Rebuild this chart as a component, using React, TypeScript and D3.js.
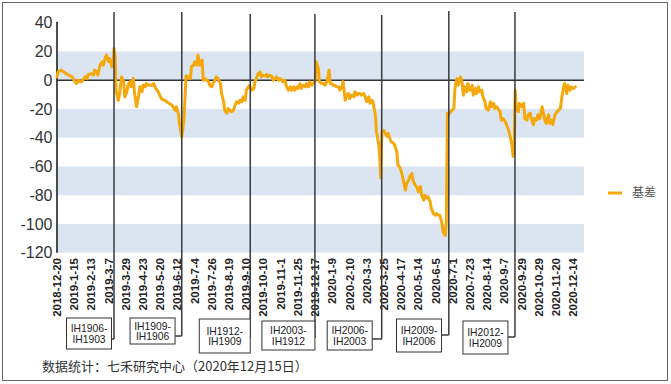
import React from "react";
import * as d3 from "d3";

// trading-day index (0 = 2018-12-20) and basis value
const pointDay = [0,1,4,7,10,14,17,18,20,21,23,26,28,29,32,34,35,37,38,40,42,43,45,46,48,49,51,52,53,54,55,57,58,60,62,63,65,66,68,69,71,72,74,76,77,79,80,82,83,85,88,90,91,94,97,100,104,107,110,111,113,114,116,117,118,120,122,
124,125,127,128,130,131,133,135,136,138,139,141,142,144,145,147,148,150,152,153,155,156,158,159,161,162,164,165,167,169,170,172,173,175,176,178,179,181,183,184,186,187,189,190,192,193,195,196,198,200,201,203,204,206,207,209,210,212,213,215,217,218,220,221,223,224,226,227,229,231,232,234,235,237,238,240,
241,243,244,246,248,249,251,252,253,254,255,257,258,260,262,263,265,266,268,269,271,272,274,276,277,279,280,282,283,285,286,288,290,291,293,294,296,297,299,300,301,302,304,305,307,308,310,311,313,314,316,317,319,321,322,324,325,327,328,330,331,333,335,336,338,339,341,342,344,345,347,348,350,352,353,355,356,358,359,361,362,
363,364,365,367,369,370,371,372,373,375,376,378,379,381,382,384,386,387,389,390,392,393,395,396,398,399,401,403,404,406,407,409,410,412,413,415,417,418,420,421,423,424,425,426,427,429,430,432,434,435,437,438,440,441,443,444,446,447,449,451,452,454,455,457,458,460,461,463,465,466,468,469,471,472,474,475,477,478,480,482];
const pointBasis = [2.3,5.8,7,5.3,4,2.3,-1.2,-2.3,0,-1,-1,2.3,1,4,4.6,3.5,7,6,3.5,10.4,12.8,10.4,16,17.4,12.8,15,9.3,10.4,22,17,-8,-14,-10.4,2.3,-1,-11.6,-8,-3.5,-1,-4.6,1.2,-8,-18.5,-10.4,-4.6,-8,-3.5,-4.6,-2.3,-3.5,-3.5,-2.3,-4.6,-8,-12.8,-14,-16,-17.4,-21,-18.5,-24,-31,-39.4,-34,-28,3,2.3,
1,9.3,10.4,12.8,10.4,17.4,10.4,14,0,1,0,-1,-3.5,-4.6,-2.3,0,2.3,1,-2.3,-9.3,-15,-21,-23,-19.7,-21,-22,-21,-18.5,-15,-16,-14,-15,-11.6,-14,-7,-4.6,-3.5,-7,-5.8,-1.2,2.3,4.6,5.8,2.3,3.5,3,4,2.3,3.5,2.3,0,1.2,2.3,0,1.2,0,-1.2,0,-3.5,-7,-4.6,-7,-4.6,-7,-4.6,-5.8,-2.3,-5.8,-3.5,-4.6,-2.3,-4.6,-1.2,-3.5,-2.3,-1,
12.8,8,-1,-2.3,-2.3,-3.5,-1,2.3,7,-2.3,-2.3,-3.5,-3.5,-4.6,-4.6,-7,-4.6,-1,-14,-10.4,-9.3,-12.8,-10.4,-11.6,-8,-10.4,-9.3,-9.3,-10.4,-9.3,-10.4,-15,-11.6,-16,-14,-16,-24,-36,-44,-52,-68,-36,-35,-37,-39,-37,-41.7,-43,-44,-45,-50,-59,-61,-66,-69.6,-76.5,-72,-69.6,-67,-65,-69.6,-73,-75,-77.7,-74,-80,-83.5,-80,-82,-81,-84.6,-89,-92.8,-94,-92.8,-94,-94,-99.7,-105.5,-108,-98,
-23,-24,-23,-21,-19.7,-5.8,-1.2,1,-3.5,2.3,1.2,-10.4,-4.6,-8,-2.3,-7,-3.5,-10.4,-5.8,-9.3,-4.6,-8,-7,-11.6,-15,-19.7,-20.8,-15,-18.5,-16,-19.7,-18.5,-19.7,-22,-27.8,-26.7,-29,-31,-35,-38,-45,-53,-52,-7,-18,-22,-16,-18.5,-16,-26.7,-27.8,-24,-23,-26.7,-31,-26.7,-27.8,-24,-26.7,-18.5,-22,-29,-30,-24,-30,-27.8,-31,-24,-22,-21,-19.7,-14,-4.6,-2.3,-9.3,-3.5,-7,-4.6,-5.8,-4.6];

const tickLabels = ["2018-12-20","2019-1-15","2019-2-13","2019-3-7","2019-3-29","2019-4-23","2019-5-20","2019-6-12","2019-7-4","2019-7-26","2019-8-19","2019-9-10","2019-10-10","2019-11-1","2019-11-25","2019-12-17","2020-1-9","2020-2-10","2020-3-3","2020-3-25","2020-4-17","2020-5-14","2020-6-5","2020-7-1","2020-7-23","2020-8-14","2020-9-7","2020-9-29","2020-10-29","2020-11-20","2020-12-14"];
const tickStep = 16;
const yTicks = [40, 20, 0, -20, -40, -60, -80, -100, -120];

// contract roll days and their labels
const rollDay = [53, 116, 179.7, 239.8, 301.9, 364.3, 425.8];
const rollLabel = [
  ["IH1906-", "IH1903"],
  ["IH1909-", "IH1906"],
  ["IH1912-", "IH1909"],
  ["IH2003-", "IH1912"],
  ["IH2006-", "IH2003"],
  ["IH2009-", "IH2006"],
  ["IH2012-", "IH2009"],
];
const seriesName = "基差";
const footnote = "数据统计：七禾研究中心（2020年12月15日）";

// layout of annotation boxes (gap to line, width, top, bottom, connector y, line top)
const boxLayout = [
  { gap: 2.5, w: 45, top: 318, bottom: 349, cy: 339, lt: 12 },
  { gap: 6.7, w: 45, top: 318, bottom: 344, cy: 336, lt: 12 },
  { gap: 0, w: 51, top: 319, bottom: 353, cy: 338, lt: 14 },
  { gap: 0, w: 53, top: 321, bottom: 350, cy: 338, lt: 14 },
  { gap: 9.5, w: 45, top: 321, bottom: 350, cy: 339, lt: 15 },
  { gap: 7.3, w: 45, top: 319, bottom: 352, cy: 335, lt: 11 },
  { gap: 7, w: 45, top: 321, bottom: 354, cy: 337, lt: 12 },
];

const FONT = "'Liberation Sans', Arial, sans-serif";
const ORANGE = "#F5A80C";

export default function App() {
  const W = 671, H = 384;
  const x = d3.scaleLinear().domain([0, 490]).range([57, 584]);
  const y = d3.scaleLinear().domain([-120, 40]).range([252.7, 22.7]);
  const pts: [number, number][] = pointDay.map((d, i) => [d, pointBasis[i]]);
  const line = d3.line<[number, number]>().x(d => x(d[0])).y(d => y(d[1]));
  const bands = [[20, 0], [-20, -40], [-60, -80], [-100, -120]];
  return (
    <svg width={W} height={H} style={{ position: "absolute", left: 0, top: 0, background: "#fff" }}>
      <rect x={2.5} y={2.5} width={665} height={378} fill="#fff" stroke="#666" strokeWidth={1} />
      {bands.map(([a, b], i) => (
        <rect key={i} x={x(0)} y={y(a)} width={x(490) - x(0)} height={y(b) - y(a)} fill="#dbe5f1" />
      ))}
      <line x1={x(0)} x2={x(490)} y1={y(0)} y2={y(0)} stroke="#333" strokeWidth={1.5} />
      <line x1={x(0)} x2={x(0)} y1={y(40) - 1} y2={y(-120)} stroke="#111" strokeWidth={1.5} />
      {yTicks.map(t => (
        <text key={t} x={52.5} y={y(t)} dy="0.35em" textAnchor="end" fontFamily={FONT} fontSize={16} fill="#333">{t}</text>
      ))}
      {tickLabels.map((t, i) => (
        <text key={t} transform={`translate(${x(i * tickStep) + 4},258) rotate(-90)`} textAnchor="end" fontFamily={FONT} fontWeight="bold" fontSize={11.5} fill="#222">{t}</text>
      ))}
      <path d={line(pts) || ""} fill="none" stroke={ORANGE} strokeWidth={3} strokeLinejoin="round" strokeLinecap="round" />
      {rollDay.map((r, i) => {
        const lx = x(r);
        const b = boxLayout[i];
        const bx = lx - b.gap - b.w;
        const mid = (b.top + b.bottom) / 2;
        return (
          <g key={i}>
            <line x1={lx} x2={lx} y1={b.lt} y2={b.cy} stroke="#3a3a3a" strokeWidth={1.5} />
            <line x1={lx} x2={bx + b.w} y1={b.cy} y2={b.cy} stroke="#3a3a3a" strokeWidth={1.5} />
            <rect x={bx} y={b.top} width={b.w} height={b.bottom - b.top} fill="#fff" stroke="#333" strokeWidth={1} />
            <text x={bx + b.w / 2} y={mid - 4.8} dy="0.35em" textAnchor="middle" fontFamily={FONT} fontSize={10.3} fill="#222">{rollLabel[i][0]}</text>
            <text x={bx + b.w / 2} y={mid + 5.6} dy="0.35em" textAnchor="middle" fontFamily={FONT} fontSize={10.3} fill="#222">{rollLabel[i][1]}</text>
          </g>
        );
      })}
      <line x1={608} x2={622} y1={193} y2={193} stroke={ORANGE} strokeWidth={3} />
      <text x={632} y={193} dy="0.35em" fontFamily="'Noto Sans CJK SC', sans-serif" fontSize={12} fill="#555">{seriesName}</text>
      <text x={42} y={366.5} dy="0.35em" fontFamily="'Noto Sans CJK SC', sans-serif" fontSize={13} fill="#333">{footnote}</text>
    </svg>
  );
}
